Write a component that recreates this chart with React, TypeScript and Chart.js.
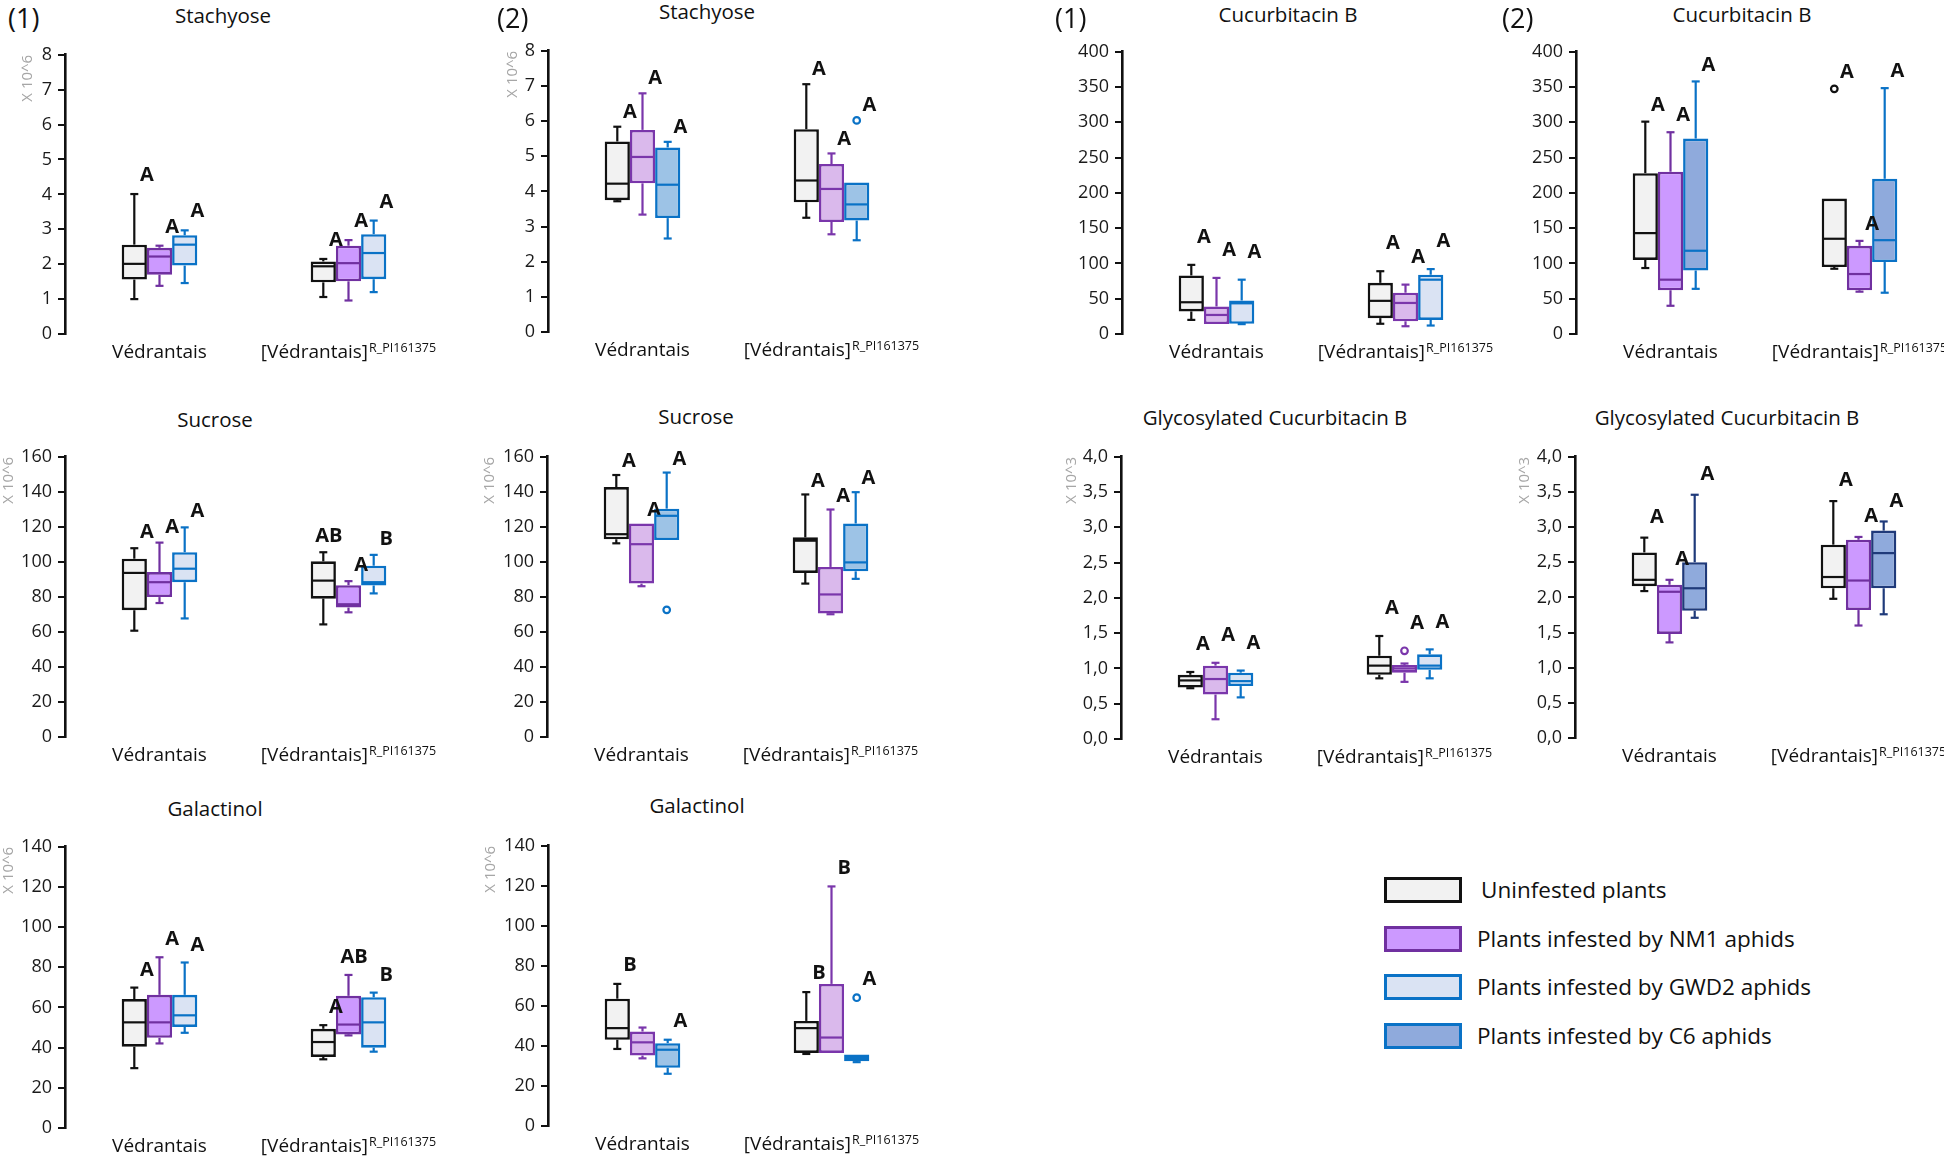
import React, { useEffect, useRef } from 'react';
import { Chart, registerables } from 'chart.js';

Chart.register(...registerables);

// ---------------- DATA ----------------
const CATEGORIES = ['Védrantais', '[Védrantais]'];
const CATEGORY_SUPERSCRIPTS = ['', 'R_PI161375'];
const SERIES_NAMES = [
  'Uninfested plants',
  'Plants infested by NM1 aphids',
  'Plants infested by GWD2 aphids',
  'Plants infested by C6 aphids',
];

// Each series row: [min, Q1, median, Q3, max] for CATEGORIES[0] and CATEGORIES[1]
const STACHYOSE_1 = [
  [[1.0, 1.56, 2.01, 2.56, 4.01], [1.06, 1.48, 1.94, 2.08, 2.15]],
  [[1.38, 1.7, 2.22, 2.47, 2.53], [0.96, 1.51, 2.03, 2.53, 2.69]],
  [[1.46, 1.96, 2.56, 2.83, 2.97], [1.2, 1.57, 2.32, 2.86, 3.25]],
];
const STACHYOSE_2 = [
  [[3.72, 3.75, 4.22, 5.42, 5.84], [3.25, 3.69, 4.31, 5.77, 7.05]],
  [[3.34, 4.23, 4.98, 5.75, 6.79], [2.78, 3.13, 4.07, 4.78, 5.08]],
  [[2.66, 3.24, 4.19, 5.25, 5.41], [2.61, 3.17, 3.63, 4.25, 4.25]],
];
const STACHYOSE_2_OUTLIERS = [[[], []], [[], []], [[], [6.02]]];

const CUCURBITACIN_1 = [
  [[20, 32, 45, 83, 98], [14.5, 22.5, 47, 72.5, 89]],
  [[14, 14, 27, 39, 79.5], [11, 18, 44, 58.5, 70]],
  [[14, 14.5, 43.5, 47.5, 77], [12, 20, 77, 84, 92]],
];
const CUCURBITACIN_2 = [
  [[93.5, 105, 143, 228, 301], [92.5, 95, 135, 192, 192]],
  [[40, 62, 77, 230, 286], [60, 62, 85, 125, 132]],
  [[64, 90, 118, 277, 358], [58.5, 102, 133, 220, 348.5]],
];
const CUCURBITACIN_2_OUTLIERS = [[[], [347.5]], [[], []], [[], []]];

const SUCROSE_1 = [
  [[60.7, 72.4, 93.7, 101.8, 107.8], [64.3, 79, 89.3, 100.3, 105.5]],
  [[76.5, 79.9, 88.4, 94.2, 111], [71.2, 73.9, 75.8, 86.7, 89]],
  [[67.7, 88.4, 96.1, 105.5, 119.7], [82, 86.5, 88.4, 97.8, 104]],
];
const SUCROSE_2 = [
  [[110.6, 112.9, 115.8, 142.7, 149.6], [87.6, 93.7, 112.1, 114, 138.5]],
  [[86.1, 87.6, 110.1, 121.9, 121.9], [70.1, 70.5, 81.4, 97.1, 129.9]],
  [[112.5, 112.5, 126.3, 130.4, 151], [90.3, 94.6, 99.7, 121.9, 139.8]],
];
const SUCROSE_2_OUTLIERS = [[[], []], [[], []], [[72.6], []]];

const GLYCO_CUCURBITACIN_1 = [
  [[0.72, 0.73, 0.83, 0.91, 0.95], [0.86, 0.91, 1.04, 1.18, 1.46]],
  [[0.28, 0.63, 0.85, 1.04, 1.08], [0.81, 0.94, 1.0, 1.05, 1.07]],
  [[0.59, 0.75, 0.82, 0.94, 0.97], [0.86, 0.98, 1.04, 1.2, 1.27]],
];
const GLYCO_CUCURBITACIN_1_OUTLIERS = [[[], []], [[], [1.25]], [[], []]];
const GLYCO_CUCURBITACIN_2 = [
  [[2.09, 2.16, 2.25, 2.64, 2.85], [1.98, 2.13, 2.29, 2.75, 3.37]],
  [[1.36, 1.48, 2.08, 2.18, 2.25], [1.6, 1.82, 2.24, 2.82, 2.86]],
  [[1.71, 1.81, 2.13, 2.5, 3.46], [1.76, 2.13, 2.63, 2.95, 3.08]],
];

const GALACTINOL_1 = [
  [[29.8, 40.5, 52.6, 64.2, 69.9], [34.2, 35.4, 42.8, 49.4, 51.2]],
  [[42.1, 44.9, 52.6, 66.3, 85], [46.1, 46.6, 51.5, 65.8, 76.2]],
  [[47.4, 50.3, 56.1, 66.3, 82.4], [38, 40, 52.6, 65.1, 67.4]],
];
const GALACTINOL_2 = [
  [[38.5, 43.1, 48.9, 63.6, 71], [36, 36.5, 48.9, 52.5, 66.9]],
  [[33.8, 35.2, 41.8, 47.2, 49.2], [36.5, 36.5, 44.2, 71, 119.7]],
  [[26.1, 29.1, 38.1, 41.4, 43.1], [31.9, 32.4, 34, 35.7, 35.7]],
];
const GALACTINOL_2_OUTLIERS = [[[], []], [[], []], [[], [64.1]]];

const NO_OUTLIERS = [[[], []], [[], []], [[], []]];

const ALL_A_LETTERS = [['A', 'A'], ['A', 'A'], ['A', 'A']];
const SUCROSE_1_LETTERS = [['A', 'AB'], ['A', 'A'], ['A', 'B']];
const GALACTINOL_1_LETTERS = [['A', 'A'], ['A', 'AB'], ['A', 'B']];
const GALACTINOL_2_LETTERS = [['B', 'B'], ['', 'B'], ['A', 'A']];

// ---------------- STYLES ----------------
const FONT = '"Open Sans", "Noto Sans", sans-serif';
const Y_W = 70;
const X_SPAN = 378;
const PAD_T = 14;
const X_H = 42;

const UNINF = { border: '#111111', fill: '#f2f2f2' };
const NM1_STRONG = { border: '#7030a0', fill: '#cc99ff' };
const NM1_LIGHT = { border: '#7a36ab', fill: '#dab9ec' };
const GWD2 = { border: '#0a72c6', fill: '#dae3f3' };
const C6_SKY = { border: '#0a72c6', fill: '#9dc3e6' };
const C6_STEEL = { border: '#0a72c6', fill: '#8faadc' };
const C6_NAVY = { border: '#1f3a7a', fill: '#8faadc' };

const PANELS: any[] = [
  { title: 'Stachyose', tag: '(1)', tagX: 8, boxes: STACHYOSE_1, outliers: NO_OUTLIERS, letters: ALL_A_LETTERS, series: [0, 1, 2], styles: [UNINF, NM1_STRONG, GWD2], max: 8, step: 1, dec: 0, unit: 'X 10^6', unitGap: 37, axisX: 65, top: 52, bottom: 334, titleX: 223, titleY: 15.5, letterGap: 20 },
  { title: 'Stachyose', tag: '(2)', tagX: 497, boxes: STACHYOSE_2, outliers: STACHYOSE_2_OUTLIERS, letters: ALL_A_LETTERS, series: [0, 1, 3], styles: [UNINF, NM1_LIGHT, C6_SKY], max: 8, step: 1, dec: 0, unit: 'X 10^6', unitGap: 35, axisX: 548, top: 48, bottom: 332, titleX: 707, titleY: 11.5, letterGap: 16 },
  { title: 'Cucurbitacin B', tag: '(1)', tagX: 1055, boxes: CUCURBITACIN_1, outliers: NO_OUTLIERS, letters: ALL_A_LETTERS, series: [0, 1, 2], styles: [UNINF, NM1_LIGHT, GWD2], max: 400, step: 50, dec: 0, unit: '', unitGap: 0, axisX: 1122, top: 49, bottom: 334, titleX: 1288, titleY: 14.5, letterGap: 29 },
  { title: 'Cucurbitacin B', tag: '(2)', tagX: 1502, boxes: CUCURBITACIN_2, outliers: CUCURBITACIN_2_OUTLIERS, letters: ALL_A_LETTERS, series: [0, 1, 3], styles: [UNINF, NM1_STRONG, C6_STEEL], max: 400, step: 50, dec: 0, unit: '', unitGap: 0, axisX: 1576, top: 49, bottom: 334, titleX: 1742, titleY: 14.5, letterGap: 18 },
  { title: 'Sucrose', boxes: SUCROSE_1, outliers: NO_OUTLIERS, letters: SUCROSE_1_LETTERS, series: [0, 1, 2], styles: [UNINF, NM1_STRONG, GWD2], max: 160, step: 20, dec: 0, unit: 'X 10^6', unitGap: 56, axisX: 65, top: 454, bottom: 737, titleX: 215, titleY: 419.5, letterGap: 17 },
  { title: 'Sucrose', boxes: SUCROSE_2, outliers: SUCROSE_2_OUTLIERS, letters: ALL_A_LETTERS, series: [0, 1, 3], styles: [UNINF, NM1_LIGHT, C6_SKY], max: 160, step: 20, dec: 0, unit: 'X 10^6', unitGap: 57, axisX: 547, top: 454, bottom: 737, titleX: 696, titleY: 417, letterGap: 15 },
  { title: 'Glycosylated Cucurbitacin B', boxes: GLYCO_CUCURBITACIN_1, outliers: GLYCO_CUCURBITACIN_1_OUTLIERS, letters: ALL_A_LETTERS, series: [0, 1, 2], styles: [UNINF, NM1_LIGHT, GWD2], max: 4, step: 0.5, dec: 1, unit: 'X 10^3', unitGap: 49, axisX: 1121, top: 454, bottom: 739, titleX: 1275, titleY: 418, letterGap: 29 },
  { title: 'Glycosylated Cucurbitacin B', boxes: GLYCO_CUCURBITACIN_2, outliers: NO_OUTLIERS, letters: ALL_A_LETTERS, series: [0, 1, 3], styles: [UNINF, NM1_STRONG, C6_NAVY], max: 4, step: 0.5, dec: 1, unit: 'X 10^3', unitGap: 50, axisX: 1575, top: 454, bottom: 738, titleX: 1727, titleY: 418, letterGap: 22 },
  { title: 'Galactinol', boxes: GALACTINOL_1, outliers: NO_OUTLIERS, letters: GALACTINOL_1_LETTERS, series: [0, 1, 2], styles: [UNINF, NM1_STRONG, GWD2], max: 140, step: 20, dec: 0, unit: 'X 10^6', unitGap: 56, axisX: 65, top: 844, bottom: 1128, titleX: 215, titleY: 809, letterGap: 19 },
  { title: 'Galactinol', boxes: GALACTINOL_2, outliers: GALACTINOL_2_OUTLIERS, letters: GALACTINOL_2_LETTERS, series: [0, 1, 3], styles: [UNINF, NM1_LIGHT, C6_SKY], max: 140, step: 20, dec: 0, unit: 'X 10^6', unitGap: 57, axisX: 548, top: 843, bottom: 1126, titleX: 697, titleY: 806, letterGap: 20 },
];

const LEGEND_STYLES = [UNINF, NM1_STRONG, GWD2, C6_STEEL];

// ---------------- PLUGIN ----------------
const boxPlotPlugin = {
  id: 'boxPlotExtras',
  afterDatasetsDraw(chart: any, _args: any, opts: any) {
    const ctx = chart.ctx;
    const ys = chart.scales.y;
    const py = (v: number) => ys.getPixelForValue(v);
    chart.data.datasets.forEach((ds: any, di: number) => {
      const meta = chart.getDatasetMeta(di);
      ds.stats.forEach((s: number[], ci: number) => {
        const el = meta.data[ci];
        if (!el) return;
        const x = el.x;
        const half = el.width / 2;
        const [lo, q1, med, q3, hi] = s;
        ctx.save();
        ctx.strokeStyle = ds.borderColor;
        ctx.lineWidth = 2.2;
        const seg = (x1: number, y1: number, x2: number, y2: number) => {
          ctx.beginPath();
          ctx.moveTo(x1, y1);
          ctx.lineTo(x2, y2);
          ctx.stroke();
        };
        if (hi > q3) {
          seg(x, py(q3), x, py(hi));
          seg(x - 4, py(hi), x + 4, py(hi));
        }
        if (lo < q1) {
          seg(x, py(q1), x, py(lo));
          seg(x - 4, py(lo), x + 4, py(lo));
        }
        seg(x - half + 1.5, py(med), x + half - 1.5, py(med));
        const outs: number[] = (ds.outliers && ds.outliers[ci]) || [];
        outs.forEach((v) => {
          ctx.beginPath();
          ctx.arc(x, py(v), 3.3, 0, Math.PI * 2);
          ctx.fillStyle = '#ffffff';
          ctx.fill();
          ctx.stroke();
        });
        const letter = ds.letters[ci];
        if (letter) {
          const topVal = Math.max(hi, ...outs);
          ctx.font = `bold 20px ${FONT}`;
          ctx.fillStyle = '#111111';
          ctx.textAlign = 'center';
          ctx.textBaseline = 'alphabetic';
          const lx = x + half - (letter.length - 1) * 7;
          ctx.fillText(letter, lx, py(topVal) - opts.letterGap + 7.1);
        }
        ctx.restore();
      });
    });
  },
  afterDraw(chart: any) {
    const ctx = chart.ctx;
    const xs = chart.scales.x;
    const bottom = chart.chartArea.bottom;
    chart.data.labels.forEach((lab: string, i: number) => {
      const sup = CATEGORY_SUPERSCRIPTS[i];
      ctx.save();
      ctx.font = `19px ${FONT}`;
      const w1 = ctx.measureText(lab).width;
      ctx.font = `12.5px ${FONT}`;
      const w2 = sup ? ctx.measureText(sup).width + 1 : 0;
      const x0 = xs.getPixelForValue(i) - (w1 + w2) / 2;
      ctx.fillStyle = '#111111';
      ctx.textAlign = 'left';
      ctx.textBaseline = 'alphabetic';
      ctx.font = `19px ${FONT}`;
      ctx.fillText(lab, x0, bottom + 24);
      if (sup) {
        ctx.font = `12.5px ${FONT}`;
        ctx.fillText(sup, x0 + w1 + 1, bottom + 18);
      }
      ctx.restore();
    });
  },
};

// ---------------- COMPONENTS ----------------
function BoxPanel({ p }: { p: any }) {
  const ref = useRef<HTMLCanvasElement>(null);
  const width = Y_W + X_SPAN;
  const height = PAD_T + (p.bottom - p.top) + X_H;
  const left = p.axisX - Y_W;
  const top = p.top - PAD_T;

  useEffect(() => {
    const canvas = ref.current;
    if (!canvas) return;
    const datasets = p.boxes.map((series: number[][], si: number) => ({
      label: SERIES_NAMES[p.series[si]],
      data: series.map((s) => [s[1], s[3]]),
      stats: series,
      outliers: p.outliers[si],
      letters: p.letters[si],
      backgroundColor: p.styles[si].fill,
      borderColor: p.styles[si].border,
      borderWidth: 2.6,
      borderSkipped: false,
      barPercentage: 1,
      categoryPercentage: 0.4,
    }));
    const fmt = (v: any) => (p.dec ? Number(v).toFixed(p.dec).replace('.', ',') : String(v));
    const titleFont = 15;
    const chart = new Chart(canvas, {
      type: 'bar',
      data: { labels: CATEGORIES, datasets },
      plugins: [boxPlotPlugin],
      options: {
        animation: false,
        responsive: false,
        maintainAspectRatio: false,
        devicePixelRatio: 1,
        events: [],
        layout: { padding: { top: PAD_T, left: 0, right: 0, bottom: 0 } },
        plugins: {
          legend: { display: false },
          tooltip: { enabled: false },
          title: { display: false },
          boxPlotExtras: { letterGap: p.letterGap },
        } as any,
        scales: {
          x: {
            grid: { display: false },
            border: { display: false },
            ticks: { display: false },
            afterFit: (s: any) => {
              s.height = X_H;
            },
          },
          y: {
            min: 0,
            max: p.max,
            ticks: {
              stepSize: p.step,
              color: '#1a1a1a',
              font: { family: FONT, size: 18 },
              padding: 6,
              callback: (v: any) => fmt(v),
            },
            grid: {
              display: true,
              drawOnChartArea: false,
              drawTicks: true,
              tickLength: 7,
              color: '#111111',
              lineWidth: 2,
            },
            border: { display: true, color: '#111111', width: 2.6 },
            title: {
              display: !!p.unit,
              text: p.unit,
              align: 'end',
              color: '#a6a6a6',
              font: { family: FONT, size: titleFont },
              padding: { top: Math.max(0, Y_W - p.unitGap - (titleFont * 1.2) / 2), bottom: 0 },
            },
            afterFit: (s: any) => {
              s.width = Y_W;
            },
          },
        },
      } as any,
    });
    return () => chart.destroy();
  }, []);

  return (
    <canvas
      ref={ref}
      width={width}
      height={height}
      style={{ position: 'absolute', left, top, width, height }}
    />
  );
}

function App() {
  return (
    <div
      style={{
        position: 'fixed',
        left: 0,
        top: 0,
        width: 1944,
        height: 1157,
        overflow: 'hidden',
        background: '#ffffff',
        fontFamily: FONT,
        color: '#111111',
      }}
    >
      {PANELS.map((p, i) => (
        <React.Fragment key={i}>
          <BoxPanel p={p} />
          <div
            style={{
              position: 'absolute',
              left: p.titleX,
              top: p.titleY - 10.9,
              transform: 'translateX(-50%)',
              fontSize: 20.5,
              lineHeight: '20.5px',
              whiteSpace: 'nowrap',
            }}
          >
            {p.title}
          </div>
          {p.tag ? (
            <div
              style={{
                position: 'absolute',
                left: p.tagX,
                top: 4,
                fontSize: 27,
                lineHeight: '27px',
                whiteSpace: 'nowrap',
              }}
            >
              {p.tag}
            </div>
          ) : null}
        </React.Fragment>
      ))}
      {SERIES_NAMES.map((name, i) => (
        <div
          key={name}
          style={{
            position: 'absolute',
            left: 1384,
            top: 877 + i * 48.5,
            height: 26,
            display: 'flex',
            alignItems: 'center',
            whiteSpace: 'nowrap',
          }}
        >
          <div
            style={{
              width: 72,
              height: 20,
              border: `3px solid ${LEGEND_STYLES[i].border}`,
              background: LEGEND_STYLES[i].fill,
            }}
          />
          <div style={{ marginLeft: i === 0 ? 19 : 15, fontSize: 22.5, lineHeight: '26px' }}>{name}</div>
        </div>
      ))}
    </div>
  );
}

export default App;
